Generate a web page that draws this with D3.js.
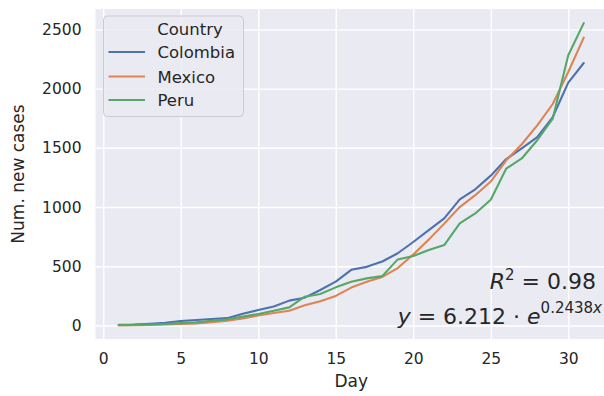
<!DOCTYPE html>
<html><head><meta charset="utf-8">
<script src="https://cdn.jsdelivr.net/npm/d3@7"></script>
<style>
body{margin:0;background:#fff;}
svg{display:block;font-family:"DejaVu Sans",sans-serif;}
</style></head>
<body><svg id="c" width="604" height="396"></svg>
<script>
const days = d3.range(1, 32);
const countries = ["Colombia", "Mexico", "Peru"];
const colombia = [5,8,14,22,38,46,55,62,100,130,160,210,235,300,370,470,495,540,610,705,805,905,1065,1150,1265,1405,1495,1590,1760,2050,2216];
const mexico   = [2,3,5,8,12,18,28,40,60,85,105,125,170,205,250,320,370,410,485,600,725,860,1000,1100,1215,1395,1530,1690,1870,2140,2430];
const peru     = [2,5,8,12,20,28,40,52,75,97,125,153,243,266,322,369,398,417,558,586,637,679,862,946,1062,1325,1410,1564,1747,2281,2553];
const seriesValues = [colombia, mexico, peru];
const colors = ["#4C72B0", "#DD8452", "#55A868"];
const xTicks = [0,5,10,15,20,25,30];
const yTicks = [0,500,1000,1500,2000,2500];
const xLabel = "Day", yLabel = "Num. new cases", legendTitle = "Country";

const svg = d3.select("#c");
const L = 95.5, R = 607, T = 9, B = 339;
const x = d3.scaleLinear().domain([-0.5, 32.5]).range([L, R]);
const y = d3.scaleLinear().domain([-114, 2672]).range([B, T]);
const ink = "#262626";

svg.append("defs").append("clipPath").attr("id","clip")
  .append("rect").attr("x",L).attr("y",T).attr("width",R-L).attr("height",B-T);
svg.append("rect").attr("x",L).attr("y",T).attr("width",R-L).attr("height",B-T).attr("fill","#EAEAF2");

const gx = svg.append("g").attr("transform",`translate(0,${B})`)
  .call(d3.axisBottom(x).tickValues(xTicks).tickSize(-(B-T)).tickPadding(14).tickFormat(d3.format("d")));
const gy = svg.append("g").attr("transform",`translate(${L},0)`)
  .call(d3.axisLeft(y).tickValues(yTicks).tickSize(-(R-L)).tickPadding(14).tickFormat(d3.format("d")));
[gx, gy].forEach(g => {
  g.select(".domain").remove();
  g.selectAll(".tick line").attr("stroke","#fff").attr("stroke-width",1.4);
  g.selectAll(".tick text").attr("fill",ink).attr("font-size","15.5px").attr("font-family","DejaVu Sans");
});
gx.selectAll(".tick text").attr("dy","0.71em");

const line = d3.line().x((d,i)=>x(days[i])).y(d=>y(d));
const pl = svg.append("g").attr("clip-path","url(#clip)");
seriesValues.forEach((vals,k)=>{
  pl.append("path").datum(vals).attr("d",line).attr("fill","none")
    .attr("stroke",colors[k]).attr("stroke-width",2.1).attr("stroke-linejoin","round").attr("stroke-linecap","round");
});

svg.append("text").attr("x",(L+R)/2).attr("y",387).attr("text-anchor","middle")
  .attr("fill",ink).attr("font-size","17px").text(xLabel);
svg.append("text").attr("transform",`translate(24,${(T+B)/2}) rotate(-90)`).attr("text-anchor","middle")
  .attr("fill",ink).attr("font-size","17px").text(yLabel);

const lg = svg.append("g");
lg.append("rect").attr("x",103.5).attr("y",16).attr("width",140).attr("height",100.5).attr("rx",4)
  .attr("fill","#EAEAF2").attr("fill-opacity",0.8).attr("stroke","#cccccc").attr("stroke-width",1);
lg.append("text").attr("x",190).attr("y",35).attr("text-anchor","middle").attr("fill",ink)
  .attr("font-size","16.5px").text(legendTitle);
const ly = [52, 76.5, 100];
countries.forEach((c,k)=>{
  lg.append("line").attr("x1",108.5).attr("x2",145).attr("y1",ly[k]).attr("y2",ly[k])
    .attr("stroke",colors[k]).attr("stroke-width",2.1);
  lg.append("text").attr("x",157.5).attr("y",ly[k]+6).attr("fill",ink).attr("font-size","16.5px").text(c);
});

const a1 = svg.append("text").attr("x",596).attr("y",289).attr("text-anchor","end").attr("fill",ink).attr("font-size","22px");
a1.append("tspan").attr("font-style","italic").text("R");
a1.append("tspan").attr("font-size","15px").attr("dy",-9).text("2");
a1.append("tspan").attr("dy",9).text(" = 0.98");
const a2 = svg.append("text").attr("x",602).attr("y",324).attr("text-anchor","end").attr("fill",ink).attr("font-size","22px");
a2.append("tspan").attr("font-style","italic").text("y");
a2.append("tspan").text(" = 6.212 \u00B7 ");
a2.append("tspan").attr("font-style","italic").text("e");
a2.append("tspan").attr("font-size","15px").attr("dy",-11).text("0.2438");
a2.append("tspan").attr("font-size","15px").attr("font-style","italic").text("x");
</script></body></html>
